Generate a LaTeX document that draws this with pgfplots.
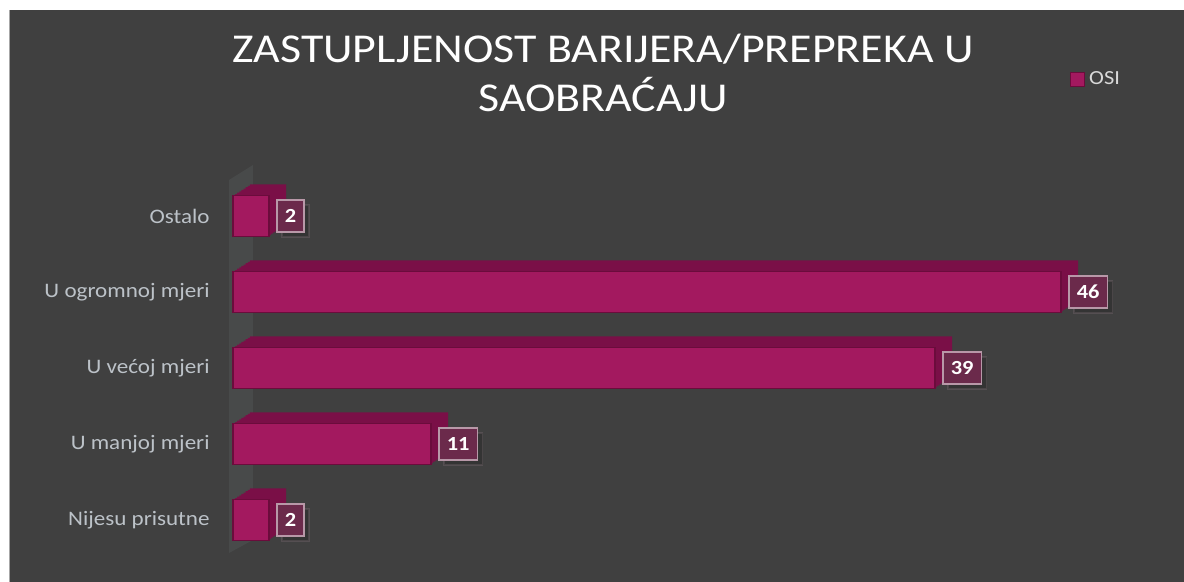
\documentclass[border=0pt]{standalone}
\usepackage{fontspec}
\setmainfont[FakeStretch=1.12]{Carlito}
\usepackage{pgfplots}
\usepackage{pgfplotstable}
\pgfplotsset{compat=1.18}
\usetikzlibrary{shadows}

\definecolor{bg}{HTML}{404040}
\definecolor{wall}{HTML}{484A4A}
\definecolor{barfront}{HTML}{A3195F}
\definecolor{bartop}{HTML}{7A0F47}
\definecolor{baredge}{HTML}{6B0C3C}
\definecolor{lbl}{HTML}{BCC2C8}
\definecolor{lblfill}{HTML}{6B2A4B}
\definecolor{lbledge}{HTML}{B898A8}

% y = category position, v = value (OSI)
\pgfplotstableread{
y v
0 2
1 11
2 39
3 46
4 2
}\data

\begin{document}
\begin{tikzpicture}
\useasboundingbox (0,0) rectangle (592pt,291pt);
\fill[white] (0,0) rectangle (592pt,291pt);
\fill[bg] (4.5pt,0) rectangle (592pt,286pt);
\draw[gray!70, line width=0.5pt] (4.75pt,0) -- (4.75pt,286pt);

\begin{axis}[
    at={(116.5pt,12pt)}, anchor=south west,
    scale only axis, width=450pt, height=190pt,
    xbar, bar width=20.5pt,
    xmin=0, xmax=50, ymin=-0.5, ymax=4.5,
    axis line style={draw=none},
    xtick=\empty,
    ytick={0,...,4},
    yticklabels={Nijesu prisutne, U manjoj mjeri, U većoj mjeri, U ogromnoj mjeri, Ostalo},
    major tick length=0pt,
    yticklabel style={font=\fontsize{10.3}{12}\selectfont, text=lbl, inner sep=0pt, anchor=east, xshift=-11.5pt},
    /pgf/number format/assume math mode=true,
    clip=false,
    legend style={at={(rel axis cs:0.93,1.26)}, anchor=west, draw=none, fill=none,
        font=\fontsize{10}{11}\selectfont, text=gray!30, inner sep=0pt},
    legend image code/.code={\fill[barfront, draw=baredge, line width=0.4pt] (0pt,-3.5pt) rectangle (7pt,3.5pt);},
]
% back wall
\fill[wall] (axis cs:-0.22,-0.434) -- (axis cs:-0.22,4.474) -- (axis cs:1.11,4.671) -- (axis cs:1.11,-0.263) -- cycle;

% depth of the bars (top and side faces)
\pgfplotsinvokeforeach{8,7,...,1}{
  \addplot[forget plot, fill=bartop, draw=none, xshift=#1*1.0625pt, yshift=#1*0.6875pt] table[x=v,y=y] {\data};
}

% front faces with value labels
\addplot[fill=barfront, draw=baredge, line width=0.6pt,
    nodes near coords,
    every node near coord/.append style={anchor=west, xshift=3.5pt,
        font=\bfseries\fontsize{10}{10}\selectfont, text=white,
        fill=lblfill, draw=lbledge, line width=0.8pt,
        inner xsep=4pt, minimum height=16pt,
        drop shadow={shadow xshift=2.5pt, shadow yshift=-2.5pt, fill=black, opacity=0.18}},
] table[x=v,y=y] {\data};
\addlegendentry{OSI}
\end{axis}

\node[anchor=base, text=white, font=\fontsize{20.5}{24}\selectfont] at (301.5pt,259.5pt) {ZASTUPLJENOST BARIJERA/PREPREKA U};
\node[anchor=base, text=white, font=\fontsize{20.5}{24}\selectfont] at (301.5pt,235pt) {SAOBRAĆAJU};
\end{tikzpicture}
\end{document}
